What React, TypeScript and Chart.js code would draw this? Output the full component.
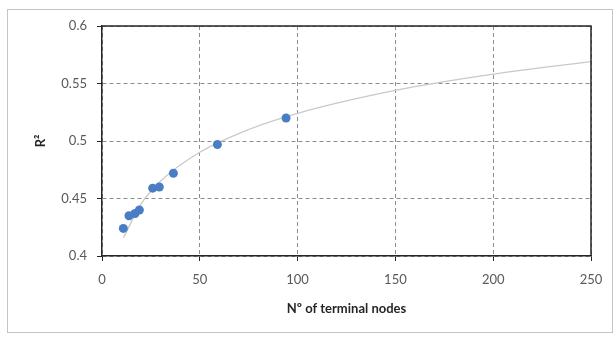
import React, { useEffect, useRef } from "react";
import { Chart, registerables } from "chart.js";

Chart.register(...registerables);

// Observed points
const nodes = [10.9, 13.8, 16.9, 19.1, 25.9, 29.3, 36.5, 59.0, 94.1];
const r2 = [0.424, 0.435, 0.437, 0.44, 0.459, 0.46, 0.472, 0.497, 0.52];

// Trend line
const trendX = [11, 20, 30, 50, 75, 100, 150, 200, 250];
const trendY = [0.416, 0.4453, 0.4652, 0.4902, 0.51, 0.5241, 0.544, 0.5581, 0.569];

const xTicks = [0, 50, 100, 150, 200, 250];
const yTicks = [0.4, 0.45, 0.5, 0.55, 0.6];

const xTitle = "Nº of terminal nodes";
const yTitle = "R²";

const FONT = "Lato, 'Open Sans', sans-serif";

export default function App() {
  const ref = useRef<HTMLCanvasElement | null>(null);

  useEffect(() => {
    if (!ref.current) return;
    const framePlugin = {
      id: "frame",
      afterDraw(chart: any) {
        const { ctx, chartArea } = chart;
        ctx.save();
        ctx.strokeStyle = "#262626";
        ctx.lineWidth = 1.5;
        ctx.beginPath();
        ctx.moveTo(chartArea.left, chartArea.top);
        ctx.lineTo(chartArea.right, chartArea.top);
        ctx.lineTo(chartArea.right, chartArea.bottom);
        ctx.stroke();
        ctx.restore();
      },
    };
    const chart = new Chart(ref.current, {
      type: "scatter",
      data: {
        datasets: [
          {
            label: "R2",
            data: nodes.map((x, i) => ({ x, y: r2[i] })),
            backgroundColor: "#4a7ec4",
            borderColor: "#4a7ec4",
            borderWidth: 0,
            pointRadius: 4.5,
            showLine: false,
          },
          {
            label: "trend",
            data: trendX.map((x, i) => ({ x, y: trendY[i] })),
            showLine: true,
            borderColor: "#c9c9c9",
            borderWidth: 1.3,
            pointRadius: 0,
            cubicInterpolationMode: "monotone",
            fill: false,
          } as any,
        ],
      },
      options: {
        responsive: false,
        animation: false,
        layout: { padding: { left: 29, top: 26, right: 25, bottom: 16 } },
        plugins: {
          legend: { display: false },
          tooltip: { enabled: false },
        },
        scales: {
          x: {
            type: "linear",
            min: 0,
            max: 250,
            afterBuildTicks: (s: any) => {
              s.ticks = xTicks.map((v) => ({ value: v }));
            },
            afterFit: (s: any) => {
              s.height = 65;
            },
            ticks: {
              color: "#595959",
              font: { family: FONT, size: 13 },
              padding: 11,
              maxRotation: 0,
            },
            grid: {
              color: "#8c8c8c",
              lineWidth: 1,
              tickColor: "#262626",
              tickLength: 5,
            },
            border: { display: true, color: "#262626", width: 1.5, dash: [4, 3] },
            title: {
              display: true,
              text: xTitle,
              color: "#262626",
              font: { family: FONT, size: 13, weight: "bold" },
            },
          },
          y: {
            type: "linear",
            min: 0.4,
            max: 0.6,
            afterBuildTicks: (s: any) => {
              s.ticks = yTicks.map((v) => ({ value: v }));
            },
            afterFit: (s: any) => {
              s.width = 73;
            },
            ticks: {
              color: "#595959",
              font: { family: FONT, size: 13 },
              padding: 10,
              callback: (v: any) => String(Number(Number(v).toFixed(2))),
            },
            grid: {
              color: "#8c8c8c",
              lineWidth: 1,
              tickColor: "#262626",
              tickLength: 5,
            },
            border: { display: true, color: "#262626", width: 1.5, dash: [4, 3] },
            title: {
              display: true,
              text: yTitle,
              color: "#262626",
              font: { family: FONT, size: 13, weight: "bold" },
            },
          },
        },
      },
      plugins: [framePlugin],
    });
    return () => chart.destroy();
  }, []);

  return (
    <>
      <div
        style={{
          position: "absolute",
          left: 7,
          top: 9,
          width: 606,
          height: 324,
          border: "1px solid #c4c4c4",
          boxSizing: "border-box",
          background: "#fff",
        }}
      />
      <canvas
        ref={ref}
        width={616}
        height={337}
        style={{ position: "absolute", left: 0, top: 0, width: 616, height: 337 }}
      />
    </>
  );
}
